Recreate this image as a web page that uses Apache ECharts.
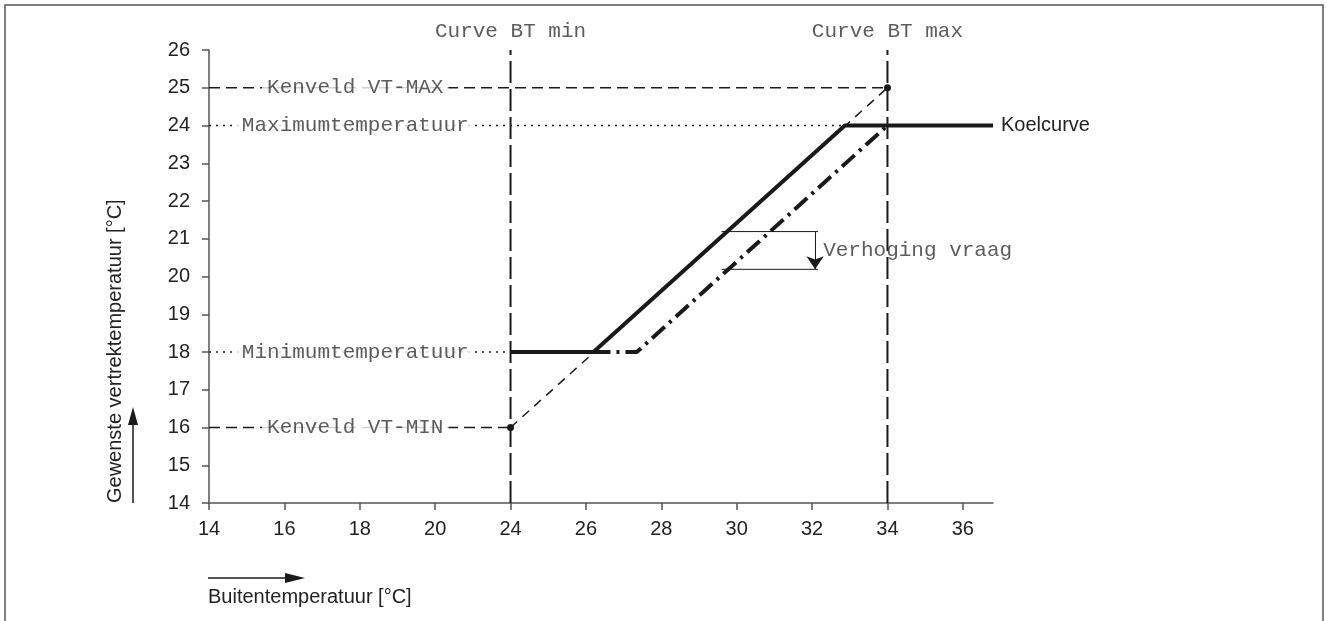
<!DOCTYPE html>
<html>
<head>
<meta charset="utf-8">
<title>Koelcurve</title>
<script src="https://cdn.jsdelivr.net/npm/echarts@6/dist/echarts.min.js"></script>
<style>
    html, body { margin: 0; padding: 0; background: #fff; }
    #chart { width: 1327px; height: 621px; }
</style>
</head>
<body>
<div id="chart"></div>
<script type="text/javascript">
    // x axis is broken: 22 is skipped, so axis units 16..22 carry the labels 14..20
    var xTickValues = [16, 18, 20, 22, 24, 26, 28, 30, 32, 34, 36];
    var xTickLabels = ['14', '16', '18', '20', '24', '26', '28', '30', '32', '34', '36'];

    // koelcurve (solid) and the raised-demand curve (dash-dot)
    var koelX = [24, 26.2, 32.87, 36.8];
    var koelY = [18, 18, 24, 24];
    var shiftX = [26.2, 27.35, 34];
    var shiftY = [18, 18, 24];

    // thin dashed line between Kenveld VT-MIN and VT-MAX
    var kenveldX = [24, 34];
    var kenveldY = [16, 25];

    // reference lines from the y axis
    var vtMaxX = [16, 34], vtMaxY = [25, 25];
    var maxTempX = [16, 32.87], maxTempY = [24, 24];
    var minTempX = [16, 24], minTempY = [18, 18];
    var vtMinX = [16, 24], vtMinY = [16, 16];

    // Curve BT min / max verticals
    var btMinX = [24, 24], btMaxX = [34, 34], btY = [14, 26];

    // Verhoging vraag bracket
    var vraagX = [29.6, 32.16];
    var vraagTop = 21.19, vraagBottom = 20.19, vraagArrowX = 32.08;

    var labelTexts = ['Kenveld VT-MAX', 'Maximumtemperatuur', 'Minimumtemperatuur', 'Kenveld VT-MIN', 'Curve BT min', 'Curve BT max'];
    var labelX = [19.88, 19.88, 19.88, 19.88, 24, 34];
    var labelY = [25, 24, 18, 16, 26.48, 26.48];

    function pairs(xs, ys) {
        var out = [];
        for (let i = 0; i < xs.length; i++) {
            out.push([xs[i], ys[i]]);
        }
        return out;
    }

    var ink = '#1a1a1a';
    var mono = '"Liberation Mono", "Courier New", monospace';
    var sans = '"Liberation Sans", Arial, sans-serif';

    function refLine(name, xs, ys, type, width) {
        return {
            name: name,
            type: 'line',
            data: pairs(xs, ys),
            showSymbol: false,
            silent: true,
            lineStyle: { color: ink, width: width, type: type }
        };
    }

    var chart = echarts.init(document.getElementById('chart'), null, { renderer: 'canvas' });

    var annotations = [];
    for (let i = 0; i < labelTexts.length; i++) {
        annotations.push({ name: labelTexts[i], value: [labelX[i], labelY[i]] });
    }

    var option = {
        animation: false,
        backgroundColor: '#fff',
        grid: { left: 209, top: 50, right: 334, bottom: 118 },
        xAxis: {
            type: 'value',
            min: 16,
            max: 36.8,
            interval: 2,
            splitLine: { show: false },
            axisLine: { lineStyle: { color: '#555', width: 1.5 } },
            axisTick: { customValues: xTickValues, length: 7, lineStyle: { color: '#555', width: 1.5 } },
            axisLabel: {
                customValues: xTickValues,
                margin: 16,
                color: '#222',
                fontFamily: sans,
                fontSize: 20,
                formatter: function (v) {
                    var i = xTickValues.indexOf(v);
                    return i < 0 ? '' : xTickLabels[i];
                }
            }
        },
        yAxis: {
            type: 'value',
            min: 14,
            max: 26,
            interval: 1,
            splitLine: { show: false },
            axisLine: { show: true, lineStyle: { color: '#555', width: 1.5 } },
            axisTick: { show: true, length: 7, lineStyle: { color: '#555', width: 1.5 } },
            axisLabel: { margin: 19, color: '#222', fontFamily: sans, fontSize: 20 }
        },
        series: [
            refLine('vtmax', vtMaxX, vtMaxY, [11, 6], 1.5),
            refLine('maxtemp', maxTempX, maxTempY, [2, 5], 1.5),
            refLine('mintemp', minTempX, minTempY, [2, 5], 1.5),
            refLine('vtmin', vtMinX, vtMinY, [11, 6], 1.5),
            refLine('btmin', btMinX, btY, [22, 6], 2),
            refLine('btmax', btMaxX, btY, [22, 6], 2),
            {
                name: 'kenveld',
                type: 'line',
                data: pairs(kenveldX, kenveldY),
                symbol: 'circle',
                symbolSize: 7,
                showSymbol: true,
                silent: true,
                itemStyle: { color: ink },
                lineStyle: { color: ink, width: 1.5, type: [9, 7] }
            },
            refLine('vraag-top', vraagX, [vraagTop, vraagTop], 'solid', 1),
            {
                name: 'vraag-bottom',
                type: 'line',
                data: pairs(vraagX, [vraagBottom, vraagBottom]),
                showSymbol: false,
                silent: true,
                lineStyle: { color: ink, width: 1 },
                markLine: {
                    silent: true,
                    symbol: ['none', 'arrow'],
                    symbolSize: 13,
                    label: { show: false },
                    lineStyle: { color: ink, width: 1, type: 'solid' },
                    data: [[{ coord: [vraagArrowX, vraagTop] }, { coord: [vraagArrowX, vraagBottom] }]]
                }
            },
            refLine('verhoogd', shiftX, shiftY, [17, 6, 3, 6], 4),
            {
                name: 'Koelcurve',
                type: 'line',
                data: pairs(koelX, koelY),
                showSymbol: false,
                silent: true,
                lineStyle: { color: ink, width: 4 },
                endLabel: {
                    show: true,
                    formatter: '{a}',
                    distance: 8,
                    color: '#222',
                    fontFamily: sans,
                    fontSize: 20
                }
            },
            {
                name: 'labels',
                type: 'scatter',
                z: 10,
                clip: false,
                silent: true,
                symbolSize: 1,
                itemStyle: { color: 'rgba(0,0,0,0)' },
                data: annotations,
                label: {
                    show: true,
                    position: 'inside',
                    formatter: '{b}',
                    color: '#333',
                    fontFamily: mono,
                    fontSize: 21,
                    backgroundColor: '#fff',
                    padding: [3, 5]
                }
            },
            {
                name: 'vraag-label',
                type: 'scatter',
                z: 10,
                silent: true,
                symbolSize: 1,
                itemStyle: { color: 'rgba(0,0,0,0)' },
                data: [{ name: 'Verhoging vraag', value: [32.28, 20.7] }],
                label: {
                    show: true,
                    position: 'right',
                    distance: 0,
                    formatter: '{b}',
                    color: '#333',
                    fontFamily: mono,
                    fontSize: 21
                }
            }
        ],
        graphic: [
            // outer frame
            { type: 'rect', shape: { x: 5, y: 5, width: 1318, height: 630 }, style: { fill: null, stroke: '#555', lineWidth: 1.5 }, silent: true },
            // axis names with their arrows
            { type: 'line', shape: { x1: 133, y1: 503, x2: 133, y2: 422 }, style: { stroke: ink, lineWidth: 1.5 } },
            { type: 'polygon', shape: { points: [[128, 425], [138, 425], [133, 407]] }, style: { fill: ink } },
            {
                type: 'text', x: 115, y: 503, rotation: Math.PI / 2,
                style: { text: 'Gewenste vertrektemperatuur [°C]', font: '20px ' + sans, fill: '#222', textAlign: 'left', textVerticalAlign: 'middle' }
            },
            { type: 'line', shape: { x1: 208, y1: 578, x2: 288, y2: 578 }, style: { stroke: ink, lineWidth: 1.5 } },
            { type: 'polygon', shape: { points: [[285, 573], [285, 583], [305, 578]] }, style: { fill: ink } },
            {
                type: 'text', x: 208, y: 597,
                style: { text: 'Buitentemperatuur [°C]', font: '20px ' + sans, fill: '#222', textAlign: 'left', textVerticalAlign: 'middle' }
            }
        ]
    };

    chart.setOption(option);
    window.addEventListener('resize', chart.resize);
</script>
</body>
</html>
